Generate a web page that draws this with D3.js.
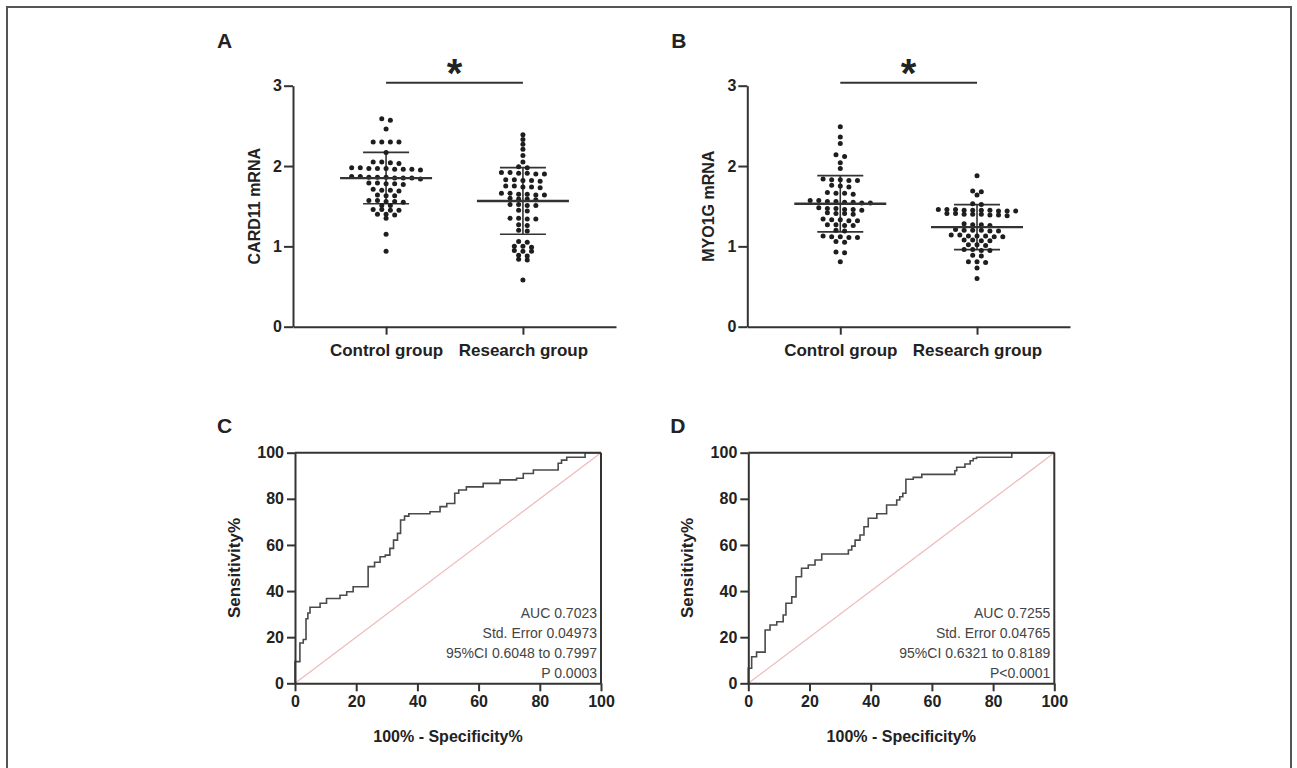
<!DOCTYPE html>
<html>
<head>
<meta charset="utf-8">
<script src="https://cdn.jsdelivr.net/npm/d3@7"></script>
<style>
body { margin: 0; background: #fff; }
svg { display: block; font-family: "Liberation Sans", Arial, sans-serif; }
</style>
</head>
<body>
<svg id="fig" width="1297" height="768"></svg>
<script>
// ---- data ----
const groups = ["Control group", "Research group"];
const scatterTicks = [0, 1, 2, 3];
const rocTicks = [0, 20, 40, 60, 80, 100];

const card11Control = [2.59, 2.57, 2.46, 2.30, 2.30, 2.30, 2.30, 2.17, 2.05, 2.05, 2.04, 2.03,
  1.98, 1.98, 1.97, 1.97, 1.97, 1.96, 1.96, 1.96, 1.95, 1.87, 1.87, 1.86, 1.86, 1.86, 1.85, 1.85, 1.85, 1.84,
  1.79, 1.79, 1.78, 1.78, 1.77, 1.71, 1.70, 1.70, 1.69, 1.64, 1.63, 1.63, 1.57, 1.57, 1.56, 1.56, 1.55,
  1.51, 1.51, 1.46, 1.46, 1.45, 1.45, 1.40, 1.40, 1.39, 1.35, 1.15, 0.94];
const card11Research = [2.39, 2.33, 2.27, 2.21, 2.13, 2.05, 1.99, 1.98, 1.92, 1.92, 1.91, 1.91, 1.90, 1.90,
  1.83, 1.83, 1.82, 1.82, 1.81, 1.75, 1.75, 1.74, 1.74, 1.73, 1.66, 1.66, 1.65, 1.65, 1.64, 1.64,
  1.60, 1.59, 1.59, 1.58, 1.52, 1.52, 1.51, 1.51, 1.45, 1.44, 1.35, 1.35, 1.34, 1.34, 1.27, 1.26,
  1.20, 1.19, 1.06, 1.05, 1.00, 1.00, 0.99, 0.95, 0.94, 0.94, 0.89, 0.88, 0.84, 0.83, 0.58];
const myo1gControl = [2.49, 2.36, 2.28, 2.14, 2.12, 2.04, 1.97, 1.84, 1.83, 1.83, 1.82, 1.82,
  1.76, 1.75, 1.74, 1.67, 1.66, 1.66, 1.65, 1.57, 1.57, 1.56, 1.56, 1.55, 1.55, 1.54, 1.54,
  1.48, 1.47, 1.47, 1.46, 1.46, 1.45, 1.42, 1.41, 1.41, 1.40, 1.34, 1.33, 1.33, 1.32, 1.32,
  1.27, 1.27, 1.26, 1.26, 1.20, 1.19, 1.13, 1.12, 1.12, 1.11, 1.11, 1.06, 1.05, 0.93, 0.92, 0.81];
const myo1gResearch = [1.88, 1.69, 1.68, 1.64, 1.53, 1.52, 1.46, 1.46, 1.46, 1.45, 1.45, 1.45, 1.45, 1.44, 1.44, 1.44,
  1.41, 1.41, 1.40, 1.40, 1.40, 1.39, 1.39, 1.38, 1.28, 1.27, 1.27, 1.26, 1.21, 1.20, 1.20, 1.20, 1.19, 1.19,
  1.14, 1.14, 1.13, 1.13, 1.13, 1.12, 1.12, 1.08, 1.08, 1.07, 1.07, 1.02, 1.02, 1.01,
  0.96, 0.96, 0.95, 0.95, 0.89, 0.88, 0.81, 0.81, 0.80, 0.73, 0.60];

const card11Mean = [1.85, 1.565];
const card11SD = [0.32, 0.415];
const myo1gMean = [1.53, 1.24];
const myo1gSD = [0.35, 0.28];

// ROC points: [100% - specificity, sensitivity]
const rocCARD11 = [[0, 0], [1.6, 9.4], [2.7, 17.5], [3.6, 19], [4.2, 28], [4.9, 30.5], [8.2, 33], [10.3, 34.7],
  [14.7, 36.8], [16.9, 38.2], [19, 39.7], [23.9, 41.9], [26, 50.6], [27.8, 52.5], [29.5, 54.9], [31, 55.6],
  [32.2, 58.5], [33.5, 62.1], [34.5, 65], [35.8, 70.8], [37.2, 72.5], [44.1, 73.5], [47.4, 74.4], [49.6, 76.6],
  [52.2, 78], [53.5, 82.4], [56, 83.8], [61.5, 85.2], [67, 86.7], [72.4, 88.2], [74.6, 88.9], [77.9, 91],
  [86, 92.5], [87.1, 95.4], [88.8, 96.8], [94.8, 98], [100, 100]];
const rocMYO1G = [[0, 0], [1.1, 6.5], [2.7, 11.5], [5.5, 13.5], [7.1, 23.1], [9.3, 25.3], [11.4, 26.7], [12.3, 29.6],
  [14.2, 34.7], [15.6, 37.5], [17.4, 46.2], [19.6, 49.9], [21.8, 51.3], [24, 53.5], [32.7, 56.1], [33.8, 57.8],
  [34.9, 59.5], [36.5, 62.1], [37.8, 64.3], [39.2, 67.9], [42, 71.6], [45.2, 73.5], [48.5, 77.3], [49.5, 79.5],
  [50.5, 80.9], [51.5, 82.4], [53.9, 88.5], [56.7, 89.3], [67.5, 90.6], [68.1, 92.2], [70.8, 93.7], [72.5, 95.1],
  [73.5, 96.5], [74.6, 97.5], [86.1, 98], [86.4, 100], [100, 100]];

const statsCARD11 = ["AUC 0.7023", "Std. Error 0.04973", "95%CI 0.6048 to 0.7997", "P 0.0003"];
const statsMYO1G = ["AUC 0.7255", "Std. Error 0.04765", "95%CI 0.6321 to 0.8189", "P<0.0001"];

// ---- drawing ----
const svg = d3.select("#fig");
const ink = "#333";

svg.append("rect")
  .attr("x", 7).attr("y", 7).attr("width", 1284).attr("height", 820)
  .attr("fill", "none").attr("stroke", "#555").attr("stroke-width", 2);

function styleAxis(sel) {
  sel.select(".domain").attr("stroke", ink).attr("stroke-width", 2);
  sel.selectAll(".tick line").attr("stroke", ink).attr("stroke-width", 2);
  sel.selectAll(".tick text").attr("fill", "#222").attr("font-size", 16).attr("font-weight", "bold");
}

// simple GraphPad-like row swarm
function swarm(values, y, step) {
  const sorted = values.slice().sort((a, b) => b - a);
  const rows = [];
  sorted.forEach(v => {
    const py = y(v);
    const row = rows[rows.length - 1];
    if (row && py - row.y0 < 3.5) row.items.push(py);
    else rows.push({ y0: py, items: [py] });
  });
  const out = [];
  rows.forEach(r => r.items.forEach((py, i) => out.push({ dx: (i - (r.items.length - 1) / 2) * step, y: py })));
  return out;
}

function scatterPanel(o) {
  const g = svg.append("g");
  const x = d3.scalePoint().domain(groups).range([o.left, o.right]).padding(0.68);
  const y = d3.scaleLinear().domain([0, 3]).range([326.7, 85.7]);

  g.append("g").attr("transform", `translate(0,${y(0)})`)
    .call(d3.axisBottom(x).tickSize(8).tickSizeOuter(0))
    .call(styleAxis)
    .call(s => s.selectAll(".tick text").attr("y", 29).attr("dy", 0).attr("font-size", 17));
  g.append("g").attr("transform", `translate(${o.left},0)`)
    .call(d3.axisLeft(y).tickValues(scatterTicks).tickFormat(d3.format("d")).tickSize(9).tickPadding(2).tickSizeOuter(0))
    .call(styleAxis);

  g.append("text").attr("transform", `translate(${o.left - 33},${y(1.5)}) rotate(-90)`)
    .attr("text-anchor", "middle").attr("font-size", 16).attr("font-weight", "bold").attr("fill", "#222")
    .text(o.ylabel);
  g.append("text").attr("x", o.left - 76).attr("y", 48)
    .attr("font-size", 21).attr("font-weight", "bold").attr("fill", "#222").text(o.letter);

  [o.control, o.research].forEach((vals, gi) => {
    const cx = x(groups[gi]);
    const m = o.mean[gi], s = o.sd[gi];
    g.append("line").attr("x1", cx).attr("x2", cx).attr("y1", y(m + s)).attr("y2", y(m - s))
      .attr("stroke", ink).attr("stroke-width", 1.6);
    [m + s, m - s].forEach(v => g.append("line")
      .attr("x1", cx - 23).attr("x2", cx + 23).attr("y1", y(v)).attr("y2", y(v))
      .attr("stroke", ink).attr("stroke-width", 1.6));
    g.selectAll(null).data(swarm(vals, y, 8.6)).enter().append("circle")
      .attr("cx", d => cx + d.dx).attr("cy", d => d.y).attr("r", 2.5).attr("fill", "#1e1e1e");
    g.append("line").attr("x1", cx - 46).attr("x2", cx + 46).attr("y1", y(m)).attr("y2", y(m))
      .attr("stroke", ink).attr("stroke-width", 2.4);
  });

  const by = y(3) - 3;
  g.append("line").attr("x1", x(groups[0])).attr("x2", x(groups[1])).attr("y1", by).attr("y2", by)
    .attr("stroke", ink).attr("stroke-width", 2);
  g.append("text").attr("x", (x(groups[0]) + x(groups[1])) / 2).attr("y", by + 4)
    .attr("text-anchor", "middle").attr("font-size", 40).attr("font-weight", "bold").attr("fill", "#222")
    .text("*");
}

function rocPanel(o) {
  const g = svg.append("g");
  const x = d3.scaleLinear().domain([0, 100]).range([o.left, o.left + 306]);
  const y = d3.scaleLinear().domain([0, 100]).range([683.3, 452.7]);

  g.append("line").attr("x1", x(0)).attr("y1", y(0)).attr("x2", x(100)).attr("y2", y(100))
    .attr("stroke", "#eebcbc").attr("stroke-width", 1.3);
  g.append("path").datum(o.roc)
    .attr("d", d3.line().x(d => x(d[0])).y(d => y(d[1])).curve(d3.curveStepBefore))
    .attr("fill", "none").attr("stroke", "#4a4a4a").attr("stroke-width", 1.6);

  g.append("line").attr("x1", x(0)).attr("x2", x(100)).attr("y1", y(100)).attr("y2", y(100))
    .attr("stroke", ink).attr("stroke-width", 2);
  g.append("line").attr("x1", x(100)).attr("x2", x(100)).attr("y1", y(100)).attr("y2", y(0))
    .attr("stroke", ink).attr("stroke-width", 2);

  g.append("g").attr("transform", `translate(0,${y(0)})`)
    .call(d3.axisBottom(x).tickValues(rocTicks).tickSize(8).tickPadding(4).tickSizeOuter(0))
    .call(styleAxis);
  g.append("g").attr("transform", `translate(${x(0)},0)`)
    .call(d3.axisLeft(y).tickValues(rocTicks).tickSize(8).tickPadding(3).tickSizeOuter(0))
    .call(styleAxis);

  g.append("text").attr("x", (x(0) + x(100)) / 2).attr("y", 742)
    .attr("text-anchor", "middle").attr("font-size", 16).attr("font-weight", "bold").attr("fill", "#222")
    .text("100% - Specificity%");
  g.append("text").attr("transform", `translate(${x(0) - 55},${y(50)}) rotate(-90)`)
    .attr("text-anchor", "middle").attr("font-size", 17).attr("font-weight", "bold").attr("fill", "#222")
    .text("Sensitivity%");
  g.append("text").attr("x", x(0) - 78).attr("y", 433)
    .attr("font-size", 21).attr("font-weight", "bold").attr("fill", "#222").text(o.letter);

  g.selectAll(null).data(o.stats).enter().append("text")
    .attr("x", x(100) - 4).attr("y", (d, i) => 618 + i * 20)
    .attr("text-anchor", "end").attr("font-size", 14).attr("fill", "#444")
    .text(d => d);
}

scatterPanel({ left: 293, right: 616, letter: "A", ylabel: "CARD11 mRNA",
  control: card11Control, research: card11Research, mean: card11Mean, sd: card11SD });
scatterPanel({ left: 747.3, right: 1070, letter: "B", ylabel: "MYO1G mRNA",
  control: myo1gControl, research: myo1gResearch, mean: myo1gMean, sd: myo1gSD });
rocPanel({ left: 295, letter: "C", roc: rocCARD11, stats: statsCARD11 });
rocPanel({ left: 748.3, letter: "D", roc: rocMYO1G, stats: statsMYO1G });
</script>
</body>
</html>
